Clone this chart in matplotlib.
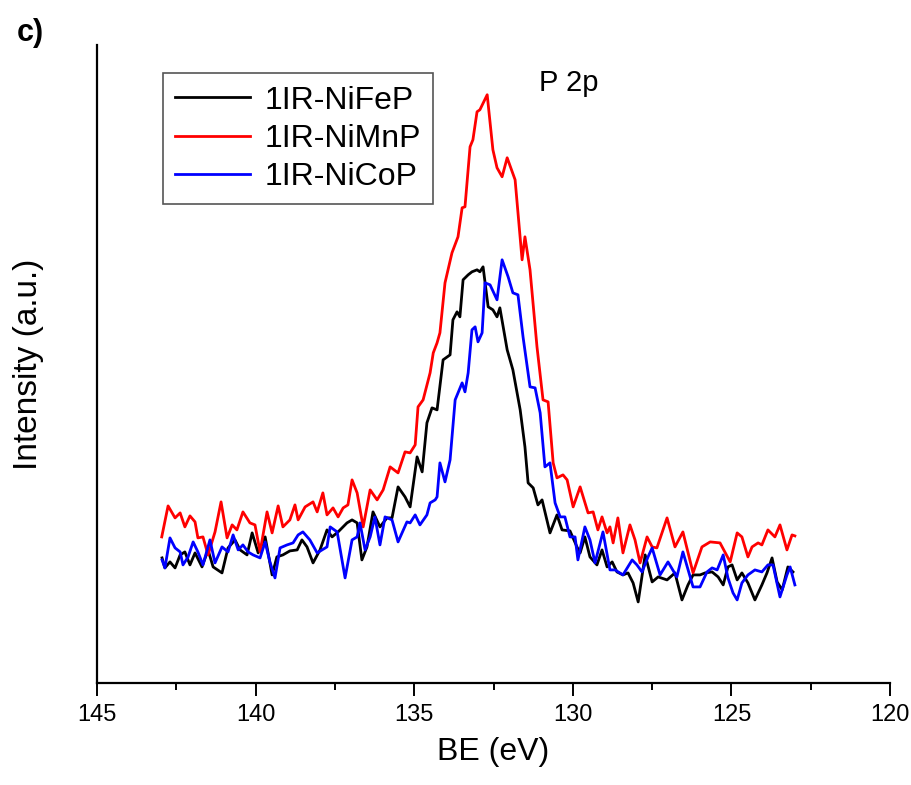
import numpy as np
import matplotlib.pyplot as plt

plt.rcParams['font.family'] = ['Liberation Sans', 'DejaVu Sans']

# Datos (BE en eV, intensidad en u.a.)
be_fe = [142.95, 142.86, 142.70, 142.54, 142.38, 142.23, 142.07, 141.91, 141.69, 141.50,
         141.34, 141.06, 140.87, 140.65, 140.49, 140.27, 140.11, 139.92, 139.70, 139.48,
         139.33, 139.14, 138.92, 138.69, 138.54, 138.38, 138.19, 137.97, 137.75, 137.59,
         137.40, 137.12, 136.96, 136.80, 136.65, 136.49, 136.30, 136.08, 135.86, 135.70,
         135.51, 135.29, 135.13, 134.91, 134.75, 134.60, 134.44, 134.28, 134.09, 133.87,
         133.78, 133.65, 133.56, 133.46, 133.30, 133.18, 133.02, 132.93, 132.83, 132.67,
         132.52, 132.39, 132.30, 132.07, 131.89, 131.66, 131.51, 131.41, 131.25, 131.10,
         130.97, 130.72, 130.50, 130.34, 130.09, 129.87, 129.77, 129.62, 129.46, 129.24,
         129.08, 128.92, 128.76, 128.61, 128.42, 128.26, 128.10, 127.94, 127.72, 127.50,
         127.31, 127.03, 126.78, 126.56, 126.37, 126.21, 125.99, 125.83, 125.61, 125.42,
         125.26, 125.11, 124.98, 124.82, 124.67, 124.48, 124.26, 124.04, 123.88, 123.72,
         123.56, 123.40, 123.22, 123.06]
int_fe = [125, 115, 121, 115, 128, 131, 118, 130, 116, 133,
          116, 110, 135, 143, 133, 128, 150, 130, 146, 108,
          126, 128, 132, 133, 143, 136, 120, 133, 153, 146,
          151, 160, 163, 160, 123, 136, 171, 156, 165, 165,
          196, 186, 176, 226, 211, 260, 275, 273, 323, 328,
          363, 371, 366, 403, 408, 411, 413, 411, 416, 376,
          373, 366, 375, 333, 313, 273, 236, 200, 195, 178,
          183, 150, 168, 153, 152, 136, 130, 146, 126, 118,
          133, 116, 121, 111, 108, 110, 100, 81, 128, 101,
          106, 103, 110, 83, 98, 108, 108, 110, 111, 106,
          98, 116, 118, 103, 110, 100, 83, 98, 110, 125,
          101, 93, 116, 111]

be_mn = [142.96, 142.76, 142.54, 142.38, 142.23, 142.07, 141.91, 141.82, 141.66, 141.50,
         141.28, 141.09, 140.90, 140.74, 140.59, 140.40, 140.18, 140.02, 139.86, 139.64,
         139.48, 139.29, 139.14, 138.92, 138.76, 138.66, 138.44, 138.19, 138.06, 137.88,
         137.75, 137.56, 137.40, 137.24, 137.09, 136.96, 136.80, 136.61, 136.39, 136.17,
         135.98, 135.76, 135.51, 135.29, 135.13, 134.97, 134.88, 134.72, 134.50, 134.40,
         134.28, 134.19, 134.03, 133.81, 133.62, 133.49, 133.40, 133.24, 133.15, 133.02,
         132.93, 132.70, 132.52, 132.39, 132.23, 132.07, 131.82, 131.60, 131.51, 131.35,
         131.13, 130.94, 130.78, 130.62, 130.50, 130.31, 130.18, 129.99, 129.77, 129.52,
         129.36, 129.21, 129.08, 128.92, 128.83, 128.73, 128.58, 128.42, 128.20, 128.04,
         127.88, 127.66, 127.50, 127.35, 127.03, 126.78, 126.53, 126.21, 125.93, 125.67,
         125.36, 125.04, 124.82, 124.67, 124.48, 124.35, 124.16, 124.04, 123.85, 123.63,
         123.47, 123.25, 123.09, 123.00]
int_mn = [146, 177, 165, 170, 156, 167, 161, 145, 146, 128,
          151, 181, 145, 158, 153, 171, 160, 158, 131, 171,
          150, 177, 156, 163, 178, 163, 176, 181, 171, 190,
          168, 175, 166, 175, 178, 203, 190, 156, 193, 183,
          193, 216, 210, 231, 230, 238, 276, 283, 310, 330,
          340, 350, 400, 430, 446, 475, 476, 536, 543, 571,
          573, 588, 533, 515, 506, 525, 503, 423, 446, 413,
          336, 283, 281, 220, 205, 208, 203, 176, 196, 170,
          171, 153, 166, 150, 156, 140, 165, 130, 158, 143,
          120, 146, 136, 135, 165, 136, 151, 110, 136, 141,
          140, 121, 150, 146, 126, 136, 140, 138, 153, 146,
          158, 133, 148, 147]

be_co = [142.95, 142.86, 142.70, 142.54, 142.38, 142.29, 142.13, 141.97, 141.82, 141.66,
         141.44, 141.28, 141.06, 140.87, 140.71, 140.55, 140.40, 140.24, 140.08, 139.86,
         139.70, 139.55, 139.39, 139.23, 139.01, 138.82, 138.66, 138.51, 138.29, 138.06,
         137.75, 137.65, 137.43, 137.18, 136.96, 136.80, 136.71, 136.55, 136.39, 136.24,
         136.08, 135.92, 135.70, 135.51, 135.23, 135.13, 134.97, 134.82, 134.60, 134.50,
         134.34, 134.28, 134.19, 134.03, 133.87, 133.71, 133.49, 133.40, 133.30, 133.18,
         133.08, 132.99, 132.86, 132.77, 132.61, 132.39, 132.23, 132.04, 131.89, 131.73,
         131.57, 131.35, 131.19, 131.03, 130.88, 130.72, 130.56, 130.40, 130.25, 130.09,
         129.93, 129.84, 129.62, 129.46, 129.30, 129.05, 128.83, 128.67, 128.42, 128.13,
         127.98, 127.82, 127.63, 127.50, 127.25, 127.00, 126.72, 126.53, 126.21, 125.99,
         125.77, 125.61, 125.45, 125.26, 125.11, 124.95, 124.82, 124.67, 124.48, 124.26,
         124.04, 123.85, 123.69, 123.47, 123.25, 123.15, 123.00]
int_co = [123, 115, 145, 135, 131, 118, 126, 141, 131, 118,
          143, 120, 136, 131, 148, 133, 138, 131, 128, 125,
          141, 121, 105, 135, 138, 140, 148, 151, 143, 130,
          136, 156, 151, 105, 143, 146, 160, 133, 146, 166,
          138, 166, 163, 141, 161, 160, 168, 158, 168, 180,
          183, 186, 220, 201, 223, 283, 300, 291, 310, 353,
          356, 341, 350, 400, 398, 383, 423, 406, 390, 388,
          346, 296, 295, 270, 216, 220, 180, 166, 166, 146,
          146, 123, 156, 143, 120, 151, 113, 113, 108, 123,
          118, 111, 126, 135, 108, 121, 106, 131, 96, 96,
          111, 115, 113, 128, 105, 90, 83, 100, 108, 113,
          111, 118, 118, 86, 108, 116, 98]

fig = plt.figure(figsize=(9.11, 7.85), dpi=100)
ax = fig.add_axes([0.1065, 0.130, 0.8705, 0.813])

ax.plot(be_fe, int_fe, color='black', lw=2.0, label='1IR-NiFeP')
ax.plot(be_mn, int_mn, color='red', lw=2.0, label='1IR-NiMnP')
ax.plot(be_co, int_co, color='blue', lw=2.0, label='1IR-NiCoP')

ax.set_xlim(145, 120)
ax.set_ylim(0, 638)
ax.set_xticks([145, 140, 135, 130, 125, 120])
ax.set_xticks(np.arange(142.5, 120, -5), minor=True)
ax.set_yticks([])

for s in ['top', 'right']:
    ax.spines[s].set_visible(False)
for s in ['left', 'bottom']:
    ax.spines[s].set_linewidth(1.6)

ax.tick_params(axis='x', which='major', direction='out', length=9, width=1.4,
               labelsize=17, pad=6)
ax.tick_params(axis='x', which='minor', direction='out', length=5, width=1.4)

ax.set_xlabel('BE (eV)', fontsize=23, labelpad=8)
ax.set_ylabel('Intensity (a.u.)', fontsize=24, labelpad=38)

ax.text(0.595, 0.94, 'P 2p', transform=ax.transAxes, fontsize=21,
        ha='center', va='center')
fig.text(0.018, 0.958, 'c)', fontsize=22, fontweight='bold', va='center')

leg = ax.legend(loc='upper left', bbox_to_anchor=(0.083, 0.955), borderaxespad=0,
                fontsize=23, handlelength=2.35, handletextpad=0.45,
                labelspacing=0.26, fancybox=False, framealpha=1,
                borderpad=0.38)
leg.get_frame().set_edgecolor('#555555')
leg.get_frame().set_linewidth(1.2)

fig.savefig('out.png', dpi=100)
